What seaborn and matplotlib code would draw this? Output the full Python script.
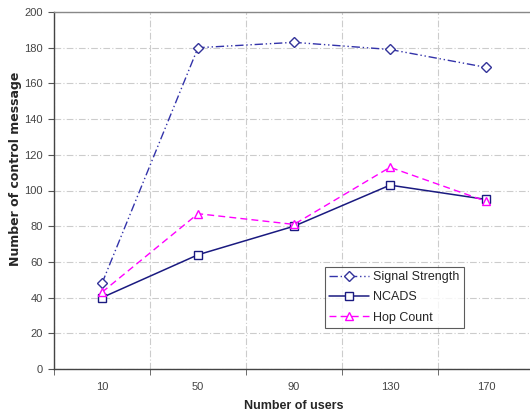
import matplotlib
matplotlib.use("Agg")
import matplotlib.pyplot as plt
import seaborn as sns
import numpy as np
import pandas as pd
from matplotlib.ticker import FixedLocator

users = ["10", "50", "90", "130", "170"]
signal_strength = [48, 180, 183, 179, 169]
ncads = [40, 64, 80, 103, 95]
hop_count = [43, 87, 81, 113, 94]

sns.set_style("white")
plt.rcParams['font.family'] = ['Liberation Sans', 'DejaVu Sans']

fig = plt.figure(figsize=(5.30, 4.13), dpi=100)
ax = fig.add_axes([54/530, 1-369/413, 476/530, (369-12)/413])

pos = np.arange(len(users))
df = pd.DataFrame({"x": pos, "s": signal_strength, "n": ncads, "h": hop_count})

sns.lineplot(data=df, x="x", y="s", ax=ax, color="#3333AA", lw=1.0,
             linestyle=(0, (6, 2, 1, 2, 1, 2)), marker="D", markersize=5,
             markerfacecolor="white", markeredgecolor="#333399", markeredgewidth=1.0,
             label="Signal Strength")
sns.lineplot(data=df, x="x", y="n", ax=ax, color="#1a1a80", lw=1.1,
             marker="s", markersize=5.5,
             markerfacecolor="white", markeredgecolor="#1a1a80", markeredgewidth=1.0,
             label="NCADS")
sns.lineplot(data=df, x="x", y="h", ax=ax, color="#FF00FF", lw=1.0,
             linestyle=(0, (5, 3)), marker="^", markersize=6,
             markerfacecolor="white", markeredgecolor="#FF00FF", markeredgewidth=1.0,
             label="Hop Count")

ax.set_xlim(-0.5, 4.5 - 4/96)
ax.set_ylim(0, 200)
ax.set_yticks(np.arange(0, 201, 20))
ax.set_xticks(pos)
ax.set_xticklabels(users)
ax.xaxis.set_minor_locator(FixedLocator(np.arange(-0.5, 4.6, 1.0)))
ax.tick_params(axis='x', which='major', length=0, pad=9, labelsize=8, labelcolor="#444444")
ax.tick_params(axis='x', which='minor', length=4, direction='out', color="#555555", bottom=True)
ax.tick_params(axis='y', which='major', length=4, direction='out', color="#555555", left=True,
               labelsize=8, labelcolor="#444444", pad=4)

ax.grid(True, which='major', axis='y', color="#CCCCCC", linestyle=(0, (6, 2, 1, 2)), lw=0.8)
ax.grid(True, which='minor', axis='x', color="#CCCCCC", linestyle=(0, (6, 2, 1, 2)), lw=0.8)
ax.grid(False, which='major', axis='x')

for s in ["left", "bottom"]:
    ax.spines[s].set_color("#444444")
    ax.spines[s].set_linewidth(1.0)
ax.spines["top"].set_color("#888888")
ax.spines["top"].set_linewidth(1.0)
ax.spines["right"].set_visible(False)

ax.set_xlabel("")
ax.set_ylabel("")
fig.text(294/530, 1-406/413, "Number of users", fontsize=9, fontweight="bold",
         ha="center", va="center")
fig.text(16/530, 1-169/413, "Number of control message", fontsize=9, fontweight="bold",
         family="DejaVu Sans", rotation=90, ha="center", va="center")

leg = ax.legend(loc="upper left", bbox_to_anchor=((325-54)/476, (369-267)/357),
                fontsize=9, frameon=True, fancybox=False, handlelength=3.2,
                borderpad=0.35, labelspacing=0.65, handletextpad=0.3, borderaxespad=0)
leg.get_frame().set_edgecolor("#333333")
leg.get_frame().set_linewidth(0.8)

fig.savefig("out.png", dpi=100)
